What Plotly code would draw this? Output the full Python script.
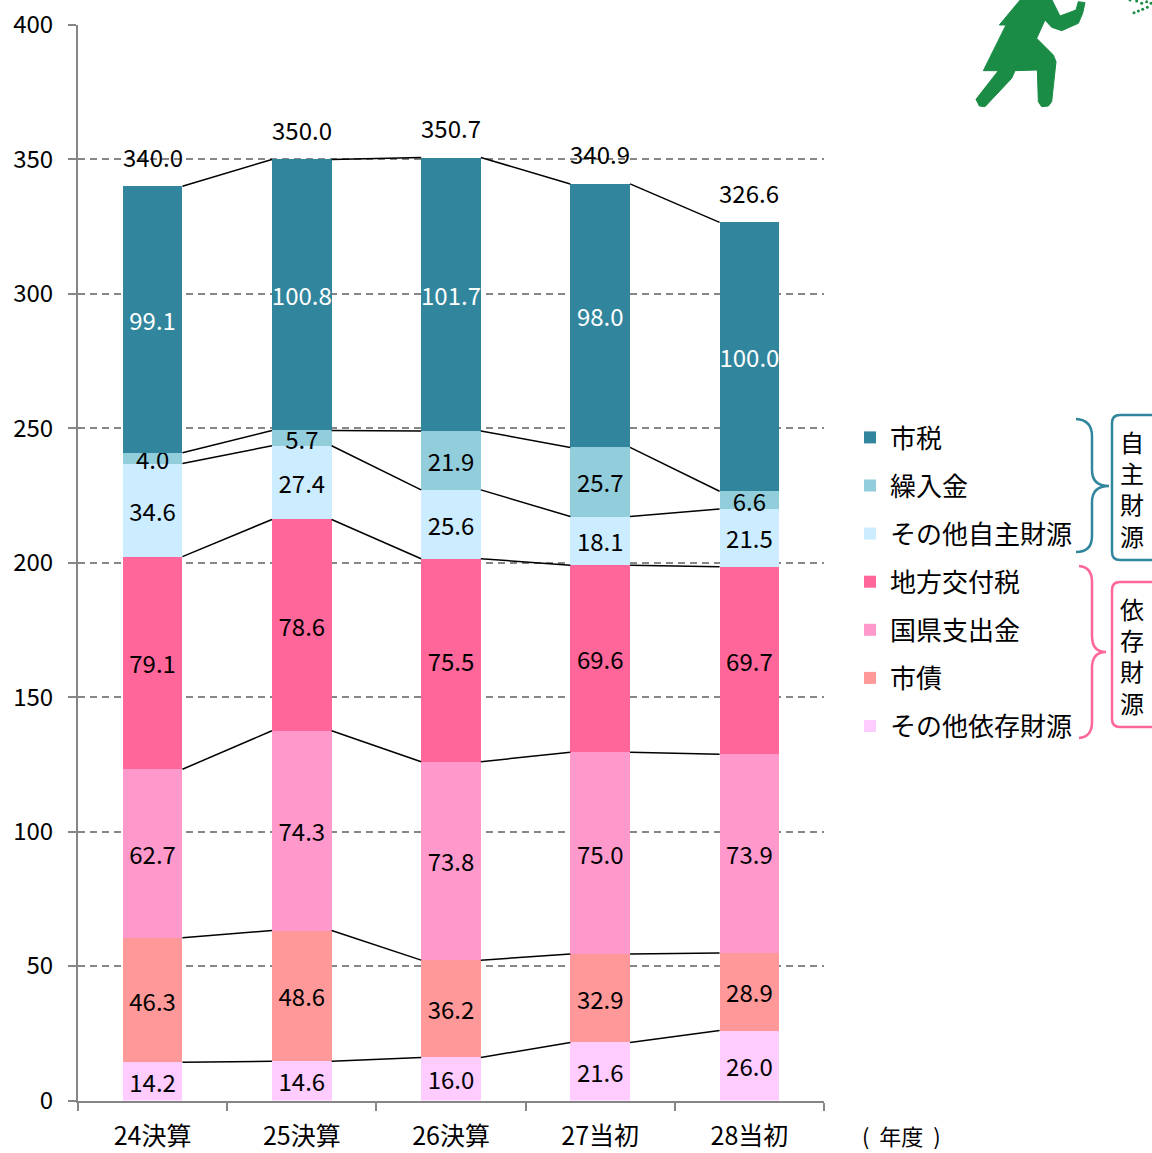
import plotly.graph_objects as go

W, H = 1152, 1153
FONT = "Noto Sans CJK JP"

categories = ["24決算", "25決算", "26決算", "27当初", "28当初"]
series_names = ["その他依存財源", "市債", "国県支出金", "地方交付税", "その他自主財源", "繰入金", "市税"]
other_dependent = [14.2, 14.6, 16.0, 21.6, 26.0]
bonds = [46.3, 48.6, 36.2, 32.9, 28.9]
national_pref = [62.7, 74.3, 73.8, 75.0, 73.9]
local_grant = [79.1, 78.6, 75.5, 69.6, 69.7]
other_own = [34.6, 27.4, 25.6, 18.1, 21.5]
transfers = [4.0, 5.7, 21.9, 25.7, 6.6]
city_tax = [99.1, 100.8, 101.7, 98.0, 100.0]
totals = [340.0, 350.0, 350.7, 340.9, 326.6]
colors = ["#FFCCFF", "#FF9999", "#FF99CC", "#FF6699", "#CCECFF", "#92CDDC", "#31859C"]
all_series = [other_dependent, bonds, national_pref, local_grant, other_own, transfers, city_tax]


def px(x):
    return x / W


def py(y):
    return 1 - y / H


def path(points):
    return "M" + " L".join(f"{px(x):.5f},{py(y):.5f}" for x, y in points) + " Z"


fig = go.Figure()
for rank, (name, vals, col) in enumerate(zip(series_names, all_series, colors)):
    fig.add_bar(
        x=categories, y=vals, name=name, marker=dict(color=col, line_width=0),
        text=[f"{v:.1f}" for v in vals], textposition="inside", insidetextanchor="middle",
        textangle=0, constraintext="none",
        textfont=dict(family=FONT, size=24, color="white" if name == "市税" else "black"),
        legendgroup=name, legendrank=1000 - rank,
    )

shapes = []
# connector lines between stacks
cum = [0.0] * 5
half_bar = 0.2
for vals in all_series:
    cum = [c + v for c, v in zip(cum, vals)]
    for i in range(4):
        shapes.append(dict(type="line", xref="x", yref="y", x0=i + half_bar, x1=i + 1 - half_bar,
                           y0=cum[i], y1=cum[i + 1], line=dict(color="black", width=1.5)))


def px_curve(d):
    out = []
    for tok in d:
        if isinstance(tok, str):
            out.append(tok)
        else:
            out.append(f"{px(tok[0]):.5f},{py(tok[1]):.5f}")
    return " ".join(out)


TEAL = "#31859C"
PINK = "#FF6699"
# braces
shapes.append(dict(type="path", xref="paper", yref="paper", line=dict(color=TEAL, width=2.5),
    path=px_curve(["M", (1076, 419), "Q", (1092, 420), (1092, 436), "L", (1092, 470), "Q", (1092, 486), (1109, 486),
                   "Q", (1092, 486), (1092, 502), "L", (1092, 536), "Q", (1092, 552), (1076, 552)])))
shapes.append(dict(type="path", xref="paper", yref="paper", line=dict(color=PINK, width=2.5),
    path=px_curve(["M", (1079, 566), "Q", (1092, 567), (1092, 582), "L", (1092, 636), "Q", (1092, 652), (1106, 652),
                   "Q", (1092, 652), (1092, 668), "L", (1092, 722), "Q", (1092, 737), (1079, 738)])))
# rounded boxes
for top, bottom, col in [(415, 560, TEAL), (582, 727, PINK)]:
    shapes.append(dict(type="path", xref="paper", yref="paper", line=dict(color=col, width=2.5),
        path=px_curve(["M", (1156, top), "L", (1120, top), "Q", (1112, top), (1112, top + 8), "L", (1112, bottom - 8),
                       "Q", (1112, bottom), (1120, bottom), "L", (1156, bottom)])))

# green figure
GREEN = "#1A8C45"
z = lambda a, b: (950 + a / 3, b / 3)
body = [(212, -2), (305, -2), (330, 48), (378, 30), (385, 5), (405, 8), (398, 40), (385, 70), (335, 92), (305, 82),
        (285, 60), (260, 115), (310, 165), (318, 185), (305, 305), (295, 318), (275, 320), (265, 305), (262, 210), (195, 212),
        (185, 235), (105, 320), (88, 318), (78, 298), (145, 212), (100, 212), (168, 75), (148, 75)]
shapes.append(dict(type="path", xref="paper", yref="paper", fillcolor=GREEN, line=dict(color=GREEN, width=1),
                   path=path([z(a, b) for a, b in body])))
for a, b in [(552, 38), (565, 33), (578, 28), (592, 22), (575, 10), (590, 5), (603, 10), (540, 0), (560, 3)]:
    cx, cy = z(a, b)
    shapes.append(dict(type="circle", xref="paper", yref="paper", fillcolor=GREEN, line_width=0,
                       x0=px(cx - 1.5), x1=px(cx + 1.5), y0=py(cy + 1.5), y1=py(cy - 1.5)))

annotations = [
    dict(x=c, y=t, xref="x", yref="y", text=f"{t:.1f}", showarrow=False, yshift=30,
         font=dict(family=FONT, size=24, color="black"))
    for c, t in zip(categories, totals)
]
for chars, yc in [("自主財源", 488), ("依存財源", 655)]:
    annotations.append(dict(x=px(1132), y=py(yc), xref="paper", yref="paper", text="<br>".join(chars), showarrow=False,
                            xanchor="center", yanchor="middle",
                            font=dict(family=FONT, size=24, color="black")))
annotations.append(dict(x=px(901), y=0, xref="paper", yref="paper", text="(\u00a0 年度 \u00a0)", showarrow=False,
                        xanchor="center", yanchor="bottom",
                        font=dict(family=FONT, size=22, color="black")))

fig.update_layout(
    width=W, height=H, barmode="stack", bargap=0.6, showlegend=True,
    margin=dict(l=0, r=0, t=0, b=0, autoexpand=False), plot_bgcolor="white", paper_bgcolor="white",
    font=dict(family=FONT, color="black"),
    shapes=shapes, annotations=annotations,
    legend=dict(x=px(850), y=py(414), xanchor="left", yanchor="top", traceorder="grouped",
                tracegroupgap=11.3, font=dict(family=FONT, size=26), itemwidth=30, bgcolor="rgba(0,0,0,0)"),
    xaxis=dict(domain=[px(78), px(824)], type="category", tickson="boundaries", ticks="outside", ticklen=8,
               tickwidth=2, tickcolor="#868686", showline=True, linecolor="#868686", linewidth=2,
               tickfont=dict(family=FONT, size=25), anchor="y", showgrid=False, automargin=False,
               ticklabelstandoff=12),
    yaxis=dict(domain=[py(1100.5), py(25)], range=[0, 400], tickvals=[0, 50, 100, 150, 200, 250, 300, 350, 400],
               ticks="outside", ticklen=8, tickwidth=2, tickcolor="#868686", showline=True, linecolor="#868686",
               linewidth=2, gridcolor="#868686", griddash="7px,5px", gridwidth=1.5, zeroline=False,
               tickfont=dict(family=FONT, size=24), anchor="x", automargin=False, ticklabelstandoff=10),
)

fig.write_html("out.html", config=dict(displayModeBar=False),
               post_script="document.body.style.margin='0';document.documentElement.style.overflow='hidden';")
